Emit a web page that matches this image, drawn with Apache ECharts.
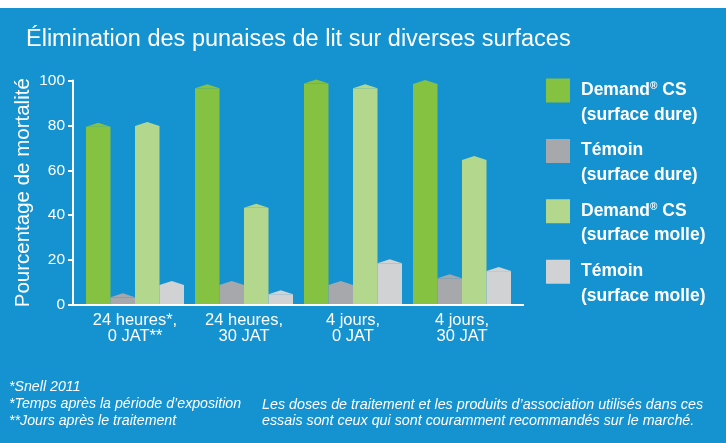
<!DOCTYPE html>
<html><head><meta charset="utf-8">
<script src="https://cdn.jsdelivr.net/npm/echarts@6/dist/echarts.min.js"></script>
<style>html,body{margin:0;padding:0;background:#1592d0;}#c{width:726px;height:443px;}</style>
</head><body><div id="c"></div>
<script>
const titleText = 'Élimination des punaises de lit sur diverses surfaces';
const yAxisName = 'Pourcentage de mortalité';
const categories = ['24 heures*,\n0 JAT**', '24 heures,\n30 JAT', '4 jours,\n0 JAT', '4 jours,\n30 JAT'];
const seriesNames = ['Demand® CS (surface dure)', 'Témoin (surface dure)', 'Demand® CS (surface molle)', 'Témoin (surface molle)'];
const legendLabels = ['Demand{sup|®} CS\n(surface dure)', 'Témoin\n(surface dure)', 'Demand{sup|®} CS\n(surface molle)', 'Témoin\n(surface molle)'];
const demandDure = [79.4, 96.5, 98.7, 98.4];
const temoinDure = [3.4, 8.9, 8.9, 11.9];
const demandMolle = [79.7, 43.3, 96.5, 64.6];
const temoinMolle = [8.9, 4.8, 18.6, 15.1];
const seriesValues = [demandDure, temoinDure, demandMolle, temoinMolle];
const seriesColors = ['#85c241', '#a6a8ab', '#b3d78d', '#d0d2d3'];
const yMin = 0, yMax = 100, yStep = 20;
const footLeft = '*Snell 2011\n*Temps après la période d’exposition\n**Jours après le traitement';
const footRight = 'Les doses de traitement et les produits d’association utilisés dans ces\nessais sont ceux qui sont couramment recommandés sur le marché.';

const FONT = '"Liberation Sans", Arial, Helvetica, sans-serif';
const GRID = {left: 80.5, top: 80.5, width: 436, height: 224.5};
const Y_OFFSET = 7.5;
const BAR_W = 24.5;

const chart = echarts.init(document.getElementById('c'), null, {renderer: 'canvas'});
const series = [];
seriesNames.forEach((n, i) => {
  series.push({
    type: 'bar', name: n, data: seriesValues[i], barWidth: BAR_W, barGap: '0%',
    itemStyle: {color: seriesColors[i]}, z: 2, silent: true
  });
});
seriesNames.forEach((n, i) => {
  series.push({
    type: 'pictorialBar', name: 'peak' + i, data: seriesValues[i], barWidth: BAR_W, barGap: '0%',
    symbol: 'triangle', symbolSize: [BAR_W, 4], symbolPosition: 'end', symbolOffset: [0, '-100%'],
    itemStyle: {color: seriesColors[i]}, z: 3, silent: true
  });
});
const labelMap = {};
seriesNames.forEach((n, i) => labelMap[n] = legendLabels[i]);

chart.setOption({
  backgroundColor: '#1592d0',
  animation: false,
  title: {
    text: titleText, left: 26, top: 28, padding: 0,
    textStyle: {color: '#fff', fontSize: 23.5, fontWeight: 'normal', fontFamily: FONT, lineHeight: 23}
  },
  legend: {
    orient: 'vertical', left: 546, top: 78, padding: 0, itemWidth: 30, itemHeight: 48, itemGap: 11.4,
    icon: 'path://M0,0L24,0L24,24L0,24Z M29.9,47.9L30,48',
    selectedMode: false,
    data: seriesNames,
    formatter: n => labelMap[n],
    textStyle: {
      color: '#fff', fontSize: 17.5, fontWeight: 'bold', fontFamily: FONT, lineHeight: 24.5,
      rich: {sup: {color: '#fff', fontSize: 10, fontWeight: 'bold', fontFamily: FONT, lineHeight: 10, padding: [0, 0, 8, 0]}}
    }
  },
  grid: GRID,
  xAxis: {
    type: 'category', data: categories,
    axisLine: {show: false}, axisTick: {show: false},
    axisLabel: {color: '#fff', fontSize: 16.5, fontFamily: FONT, lineHeight: 15.5, margin: 8, interval: 0}
  },
  yAxis: {
    type: 'value', min: yMin, max: yMax, interval: yStep, offset: Y_OFFSET,
    name: yAxisName, nameLocation: 'middle', nameGap: 39.5, nameMoveOverlap: false,
    nameTextStyle: {color: '#fff', fontSize: 20.5, fontFamily: FONT, lineHeight: 20.5},
    axisLine: {show: true, lineStyle: {color: '#fff', width: 2}},
    axisTick: {show: true, length: 5, lineStyle: {color: '#fff', width: 2}},
    axisLabel: {color: '#fff', fontSize: 15.5, fontFamily: FONT, margin: 8},
    splitLine: {show: false}
  },
  series: series
});

const y0 = chart.convertToPixel({yAxisIndex: 0}, yMin);
const xA = GRID.left - Y_OFFSET, xB = GRID.left + GRID.width + Y_OFFSET;
chart.setOption({
  graphic: [
    {type: 'rect', shape: {x: 0, y: 0, width: 726, height: 8}, style: {fill: '#ffffff'}, silent: true},
    {type: 'line', shape: {x1: xA - 1, y1: y0, x2: xB, y2: y0}, style: {stroke: '#fff', lineWidth: 2}, z: 10, silent: true},
    {type: 'text', x: 9, y: 404.5, silent: true,
      style: {text: footLeft, fill: '#fff', fontSize: 14.2, fontStyle: 'italic', fontFamily: FONT, lineHeight: 17, verticalAlign: 'middle'}},
    {type: 'text', x: 262, y: 413.2, silent: true,
      style: {text: footRight, fill: '#fff', fontSize: 14.3, fontStyle: 'italic', fontFamily: FONT, lineHeight: 16.3, verticalAlign: 'middle'}}
  ]
});
</script></body></html>
